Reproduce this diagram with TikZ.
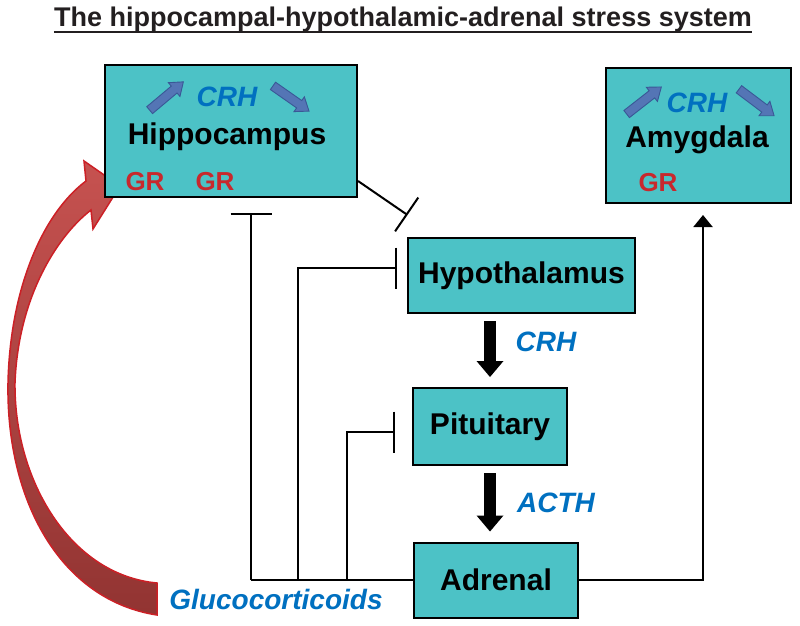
\documentclass[tikz,border=0pt]{standalone}
\usepackage{fontspec}
\setmainfont{Liberation Sans}
\usetikzlibrary{arrows.meta}
\definecolor{boxteal}{RGB}{76,194,198}
\definecolor{labelblue}{RGB}{0,112,192}
\definecolor{grred}{RGB}{200,40,45}
\definecolor{crhblue}{RGB}{84,117,181}
\definecolor{crhedge}{RGB}{58,88,150}
\definecolor{gluctop}{RGB}{198,82,80}
\definecolor{glucbottom}{RGB}{146,52,50}
\definecolor{glucedge}{RGB}{204,32,38}
\definecolor{titlegray}{RGB}{35,31,32}
\newcommand{\crharrow}[2]{
    \begin{scope}[shift={(#1)},rotate=#2]
        \draw[updown] (-22,-4.5) -- (10,-4.5) -- (10,-9) -- (22,0) -- (10,9) -- (10,4.5) -- (-22,4.5) -- cycle;
    \end{scope}}
\begin{document}
\begin{tikzpicture}[x=1pt,y=-1pt,
                    organ/.style={draw,line width=2pt,fill=boxteal,inner sep=0pt},
                    big/.style={font=\fontsize{30}{34}\selectfont\bfseries},
                    hormone/.style={text=labelblue,font=\fontsize{28}{32}\selectfont\bfseries\itshape},
                    receptor/.style={text=grred,font=\fontsize{26}{30}\selectfont\bfseries},
                    updown/.style={draw=crhedge,fill=crhblue,line width=0.9pt,line join=miter},
                    feedback/.style={line width=2pt},
                    inhibit/.style={line width=2pt,-{Bar[width=41pt,line width=2pt]}},
                    pump/.style={line width=12pt,-{Triangle[width=27pt,length=16pt,line width=0pt]},
                                 shorten <=7pt,shorten >=10pt}]
                    \useasboundingbox (0,0) rectangle (800,626);

                    \node[font=\fontsize{27}{32}\selectfont\bfseries,text=titlegray,inner sep=0pt] (title) at (403,20) {The hippocampal-hypothalamic-adrenal stress system};
                    \draw[line width=1.8pt,titlegray] ([yshift=-5pt]title.base west) -- ([yshift=-5pt]title.base east);

                    \draw[glucedge,line width=1.5pt,top color=gluctop,bottom color=glucbottom]
                          (157,615) .. controls (60,600) and (6,500) .. (8,383)
                          .. controls (10,290) and (42,214) .. (86,181)
                          -- (84,161) -- (120,186) -- (93,229) -- (91,210)
                          .. controls (55,238) and (18,300) .. (15,383)
                          .. controls (14,480) and (70,575) .. (157,583) -- cycle;

                    \node[organ,minimum width=252pt,minimum height=132pt] (hip) at (231,131) {};
                    \node[hormone] (hipcrh) at (227,97) {CRH};
                    \node[big] (hiplabel) at (227,137) {Hippocampus};
                    \node[receptor] (hipgra) at (145,182) {GR};
                    \node[receptor] (hipgrb) at (215,182) {GR};
                    \crharrow{166.5,96}{40}
                    \crharrow{291,98.5}{-35}

                    \node[organ,minimum width=185pt,minimum height=135pt] (amy) at (698.5,135.5) {};
                    \node[hormone] (amycrh) at (697,103) {CRH};
                    \node[big] (amylabel) at (697,140) {Amygdala};
                    \node[receptor] (amygr) at (658,183) {GR};
                    \crharrow{644,100.5}{38}
                    \crharrow{756.5,102.5}{-37}

                    \node[organ,big,minimum width=227pt,minimum height=75pt] (hyp) at (521.5,275.5) {Hypothalamus};
                    \node[organ,big,minimum width=154pt,minimum height=77pt] (pit) at (490,426.5) {Pituitary};
                    \node[organ,big,minimum width=164pt,minimum height=75pt] (adr) at (496,580) {Adrenal};

                    \node[hormone] (crh) at (546,342) {CRH};
                    \node[hormone] (acth) at (556,503) {ACTH};
                    \node[hormone] (gluc) at (276,599) {Glucocorticoids};

                    \coordinate (ja) at (251,580);
                    \coordinate (jb) at (298,580);
                    \coordinate (jc) at (347,580);
                    \coordinate (hipbar) at (251,213);
                    \coordinate (hypbar) at (397,268);
                    \coordinate (pitbar) at (395,432);
                    \coordinate (diagbar) at (407.5,215);
                    \coordinate (amyin) at (703,215);

                    \draw[pump] (pit.north |- hyp.south) -- (pit.north);
                    \draw[pump] (pit.south) -- (pit.south |- adr.north);

                    \draw[feedback] (adr.west) -- (ja);
                    \draw[inhibit] (ja) -- (hipbar);
                    \draw[inhibit] (jb) |- (hypbar);
                    \draw[inhibit] (jc) |- (pitbar);
                    \draw[inhibit] ([yshift=17pt]hip.south east) -- (diagbar);
                    \draw[feedback,-{Triangle[width=19pt,length=12pt]}] (adr.east) -| (amyin);
                \end{tikzpicture}
\end{document}
